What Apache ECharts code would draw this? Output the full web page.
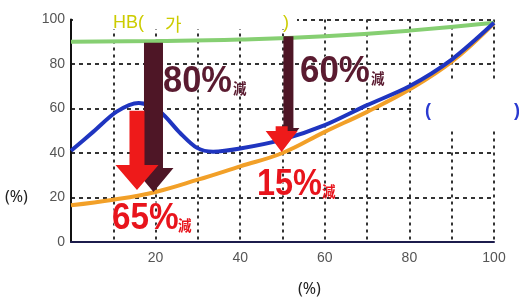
<!DOCTYPE html>
<html>
<head>
<meta charset="utf-8">
<script src="https://cdn.jsdelivr.net/npm/echarts@6/dist/echarts.min.js"></script>
<style>
  html, body { margin: 0; padding: 0; background: #fff; }
  #chart { width: 519px; height: 307px; }
</style>
</head>
<body>
<div id="chart"></div>
<script>
// 各曲线数据 [x, y]
var greenLine = [[0, 90], [20, 90.3], [40, 91], [60, 92.5], [80, 95], [100, 98.5]];
var blueLine = [[0, 41], [5.3, 49.6], [10.8, 58.6], [16, 62.5], [21, 58.6], [25.8, 49], [29.8, 42.3],
  [33.6, 40.6], [40, 42], [50, 46], [60, 52.5], [70, 61.5], [80, 70], [90, 82], [100, 98.5]];
var orangeLine = [[0, 16.5], [10, 19], [20, 22.5], [30, 28], [40, 34], [50, 40], [60, 49.5], [70, 58.5],
  [80, 68.5], [90, 81], [100, 98.3]];
// 箭头 [x, 起点y, 终点y]
var maroonArrows = [[19.5, 89.5, 22.5], [51.4, 92.5, 45]];
var redArrows = [[15.6, 59, 23.4], [49.8, 52, 40.5]];
var yTicks = [0, 20, 40, 60, 80, 100];
var xTicks = [20, 40, 60, 80, 100];
var pctTexts = ['80%', '60%', '65%', '15%'];

// 箭头尺寸 [杆宽, 头宽, 头高]
var maroonSize = [[19, 40, 24], [10, 22, 14]];
var redSize = [[15, 43, 25], [12, 32, 21]];

function arrowRender(sizes, color) {
  return function (params, api) {
    var top = api.coord([api.value(0), api.value(1)]);
    var tip = api.coord([api.value(0), api.value(2)]);
    var s = sizes[params.dataIndex];
    var cx = tip[0], hy = tip[1] - s[2];
    return {
      type: 'polygon',
      shape: {
        points: [
          [cx - s[0] / 2, top[1]], [cx + s[0] / 2, top[1]], [cx + s[0] / 2, hy], [cx + s[1] / 2, hy],
          [cx, tip[1]], [cx - s[1] / 2, hy], [cx - s[0] / 2, hy]
        ]
      },
      style: { fill: color }
    };
  };
}

// “xx%減” 标注：数字 + 小号“減”
function pctLabel(text, x, baseline, size, sx, kx, color) {
  return [
    { type: 'text', z: 10, x: x, y: baseline - 0.8465 * size, scaleX: sx,
      style: { text: text, fill: color, fontSize: size, fontWeight: 'bold', fontFamily: 'Liberation Sans',
        stroke: '#fff', lineWidth: 1 } },
    { type: 'text', z: 10, x: kx, y: baseline - 14, scaleX: 0.9,
      style: { text: '減', fill: color, fontSize: 15, fontWeight: 'bold', fontFamily: 'Noto Sans CJK JP' } }
  ];
}

var chart = echarts.init(document.getElementById('chart'));
var labelFont = { color: '#555', fontSize: 14, fontFamily: 'Liberation Sans' };

var graphics = [
  { type: 'rect', z: 1, shape: { x: 414, y: 79, width: 105, height: 49 }, style: { fill: '#fff' } },
  { type: 'rect', z: 1, shape: { x: 73, y: 12, width: 224, height: 17 }, style: { fill: '#fff' } },
  { type: 'text', z: 10, x: 113, y: 14.5, style: { text: 'HB(', fill: '#cccc00', fontSize: 18, fontFamily: 'Liberation Sans' } },
  { type: 'text', z: 10, x: 165, y: 15.5, style: { text: '가', fill: '#cccc00', fontSize: 18, fontFamily: 'Noto Sans CJK KR' } },
  { type: 'text', z: 10, x: 283, y: 14.5, style: { text: ')', fill: '#cccc00', fontSize: 18, fontFamily: 'Liberation Sans' } },
  { type: 'text', z: 10, x: 425, y: 102, style: { text: '(', fill: '#2a3ad0', fontSize: 18, fontFamily: 'Liberation Sans', fontWeight: 'bold' } },
  { type: 'text', z: 10, x: 514, y: 102, style: { text: ')', fill: '#2a3ad0', fontSize: 18, fontFamily: 'Liberation Sans', fontWeight: 'bold' } },
  { type: 'text', z: 10, x: 5, y: 189, style: { text: '(%)', fill: '#222', fontSize: 16, fontFamily: 'Noto Sans' } },
  { type: 'text', z: 10, x: 298, y: 281, style: { text: '(%)', fill: '#222', fontSize: 16, fontFamily: 'Noto Sans' } }
]
  .concat(pctLabel(pctTexts[0], 163, 95, 37, 0.93, 233, '#5a1b30'))
  .concat(pctLabel(pctTexts[1], 300, 85, 36, 0.97, 371, '#5a1b30'))
  .concat(pctLabel(pctTexts[2], 112, 232, 37, 0.9, 178, '#e8141c'))
  .concat(pctLabel(pctTexts[3], 257, 198, 36, 0.9, 322, '#e8141c'));

var option = {
  animation: false,
  grid: { left: 71, right: 25, top: 19.5, bottom: 65 },
  xAxis: {
    type: 'value', min: 0, max: 100, interval: 10,
    axisLine: { show: true, lineStyle: { color: '#1c1c4c', width: 2 } },
    axisTick: { show: false },
    axisLabel: Object.assign({
      margin: 9,
      formatter: function (v) { return xTicks.indexOf(v) >= 0 ? String(v) : ''; }
    }, labelFont),
    splitLine: { show: true, lineStyle: { color: '#333', width: 2, type: [3, 4] } }
  },
  yAxis: {
    type: 'value', min: 0, max: 100, interval: 20,
    axisLine: { show: true, lineStyle: { color: '#111', width: 2 } },
    axisTick: { show: false },
    axisLabel: Object.assign({
      margin: 6,
      formatter: function (v) { return yTicks.indexOf(v) >= 0 ? String(v) : ''; }
    }, labelFont),
    splitLine: { show: true, lineStyle: { color: '#333', width: 2, type: [4, 4] } }
  },
  series: [
    { type: 'line', data: greenLine, smooth: true, symbol: 'none', z: 3,
      lineStyle: { color: '#86cf72', width: 4 } },
    { type: 'line', data: orangeLine, smooth: 0.4, symbol: 'none', z: 3,
      lineStyle: { color: '#f2a028', width: 4 } },
    { type: 'line', data: blueLine, smooth: 0.3, symbol: 'none', z: 4,
      lineStyle: { color: '#1f35c0', width: 4 } },
    { type: 'custom', data: maroonArrows, z: 5, renderItem: arrowRender(maroonSize, '#4e1626') },
    { type: 'custom', data: redArrows, z: 6, renderItem: arrowRender(redSize, '#ee1a1a') }
  ],
  graphic: graphics
};
chart.setOption(option);
</script>
</body>
</html>
